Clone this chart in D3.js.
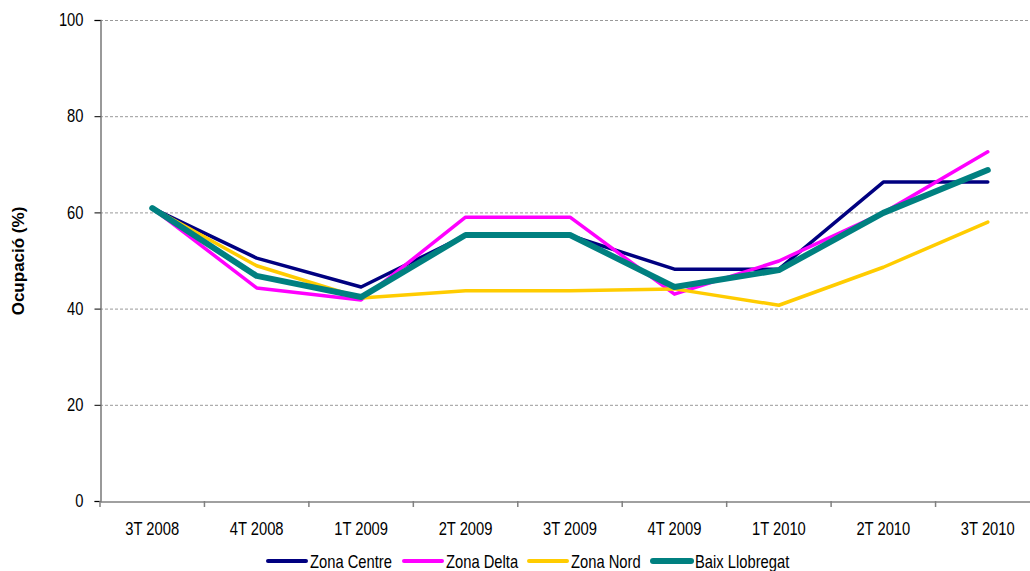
<!DOCTYPE html>
<html><head><meta charset="utf-8">
<script src="https://cdn.jsdelivr.net/npm/d3@7"></script>
<style>
body{margin:0;background:#fff;}
text{font-family:"Liberation Sans",Arial,sans-serif;}
</style></head>
<body><svg id="c" width="1030" height="571"></svg>
<script>
const categories = ["3T 2008","4T 2008","1T 2009","2T 2009","3T 2009","4T 2009","1T 2010","2T 2010","3T 2010"];
const zonaCentre = [60.9,50.5,44.5,55.2,55.2,48.2,48.2,66.3,66.3];
const zonaDelta  = [60.9,44.3,41.8,59.0,59.0,43.0,49.9,59.9,72.6];
const zonaNord   = [60.9,48.9,42.2,43.7,43.7,44.1,40.7,48.6,58.0];
const baixLlobregat = [60.9,46.8,42.4,55.3,55.3,44.5,48.0,59.9,68.8];
const seriesNames = ["Zona Centre","Zona Delta","Zona Nord","Baix Llobregat"];
const yTicks = [0,20,40,60,80,100];

(function(){
const NARROW = 0.82;
const series = [
  {name:seriesNames[0], values:zonaCentre, color:"#000080", w:3.5},
  {name:seriesNames[1], values:zonaDelta, color:"#FF00FF", w:3.5},
  {name:seriesNames[2], values:zonaNord, color:"#FFCC00", w:3.5},
  {name:seriesNames[3], values:baixLlobregat, color:"#008080", w:6}
];

const svg = d3.select("#c");
const pl=100, pr=1040, pt=20, pb=501;
const x = d3.scaleBand().domain(categories).range([pl,pr]);
const y = d3.scaleLinear().domain([0,100]).range([pb,pt]);

// gridlines
svg.append("g").selectAll("line").data(yTicks.filter(d=>d>0)).join("line")
  .attr("x1",pl).attr("x2",1030).attr("y1",d=>y(d)+0.5).attr("y2",d=>y(d)+0.5)
  .attr("stroke","#999").attr("stroke-width",1).attr("stroke-dasharray","3,2");

// y axis
const ya = svg.append("g").attr("transform",`translate(${pl+0.5},0)`)
  .call(d3.axisLeft(y).tickValues(yTicks).tickSize(6).tickPadding(11));
ya.select(".domain").attr("stroke","#808080").attr("stroke-width",1.6);
ya.selectAll(".tick line").attr("stroke","#000").attr("stroke-width",1);
ya.selectAll(".tick text").attr("font-size","18px").attr("fill","#000")
  .attr("x",-17/NARROW).attr("transform",`scale(${NARROW},1)`);

// x axis
const xa = svg.append("g").attr("transform",`translate(0,${pb+0.5})`)
  .call(d3.axisBottom(x).tickSize(0).tickPadding(21));
xa.select(".domain").attr("stroke","#808080").attr("stroke-width",1.6);
xa.selectAll(".tick text").attr("font-size","18px").attr("fill","#000")
  .attr("transform",`scale(${NARROW},1)`);
svg.append("g").selectAll("line").data(d3.range(categories.length+1)).join("line")
  .attr("x1",i=>pl+i*x.step()).attr("x2",i=>pl+i*x.step())
  .attr("y1",pb).attr("y2",pb+6).attr("stroke","#808080").attr("stroke-width",1.5);

// y label
svg.append("text").attr("transform","translate(24,261) rotate(-90)")
  .attr("text-anchor","middle").attr("font-size","17px").attr("font-weight","bold")
  .text("Ocupació (%)");

// lines
const line = d3.line().x((d,i)=>x(categories[i])+x.bandwidth()/2).y(d=>y(d));
svg.append("g").selectAll("path").data(series).join("path")
  .attr("d",d=>line(d.values)).attr("fill","none").attr("stroke",d=>d.color)
  .attr("stroke-width",d=>d.w).attr("stroke-linejoin","round").attr("stroke-linecap","round");

// legend
const lx = [268,404,529,653];
const lg = svg.append("g").selectAll("g").data(series).join("g")
  .attr("transform",(d,i)=>`translate(${lx[i]},561)`);
lg.append("line").attr("x1",0).attr("x2",38).attr("y1",0).attr("y2",0)
  .attr("stroke",d=>d.color).attr("stroke-width",d=>d.w===6?6:4).attr("stroke-linecap","round");
lg.append("text").attr("transform",`translate(42,7) scale(${NARROW},1)`)
  .attr("font-size","18px").text(d=>d.name);
})();
</script></body></html>
